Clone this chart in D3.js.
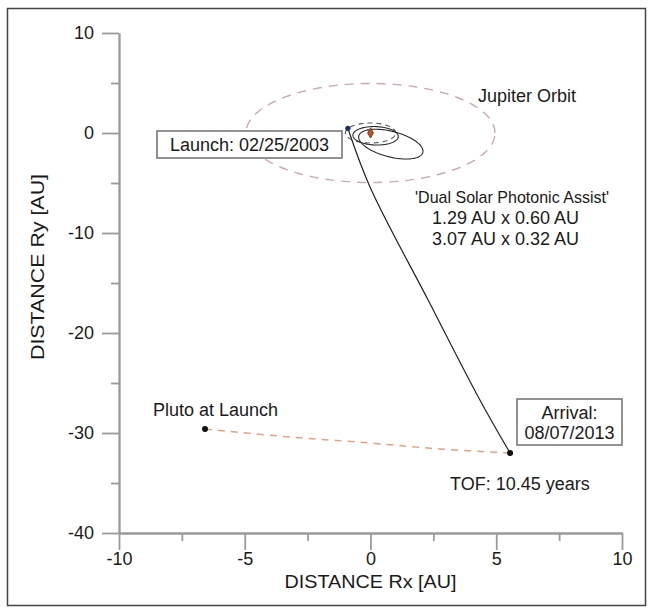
<!DOCTYPE html>
<html>
<head>
<meta charset="utf-8">
<script src="https://cdn.jsdelivr.net/npm/d3@7"></script>
<style>
  body { margin: 0; background: #fff; }
  text { font-family: "Liberation Sans", Arial, sans-serif; fill: #1a1a1a; }
</style>
</head>
<body>
<script>
// axis ticks
var xMajorTicks = [ -10, -5, 0, 5, 10 ];
var xMinorTicks = [ -7.5, -2.5, 2.5, 7.5 ];
var yMajorTicks = [ 10, 0, -10, -20, -30, -40 ];
var yMinorTicks = [ 5, -5, -15, -25, -35 ];

// circular planet orbits [AU]
var planetNames = [ 'Earth', 'Jupiter' ];
var planetRadius = [ 1.0, 4.95 ];

// the two solar photonic assist ellipses [AU]
var assistAphelion = [ 1.29, 3.07 ];
var assistPerihelion = [ 0.60, 0.32 ];
var assistApsisDeg = [ -54, -54 ];

// transfer trajectory [AU]
var trajX = [ -0.9, -0.02, 2.29, 4.35, 5.55 ];
var trajY = [ 0.47, -5.4, -16.7, -26.7, -32.0 ];

// Pluto's path during the flight [AU]
var plutoX = [ -6.58, -3.2, -0.02, 2.76, 5.55 ];
var plutoY = [ -29.6, -30.4, -31.0, -31.6, -32.0 ];

var launchPos = [ -0.9, 0.47 ];
var sunPos = [ 0, 0 ];

var svg = d3.select( 'body' ).append( 'svg' )
  .attr( 'width', 652 )
  .attr( 'height', 608 );

var x = d3.scaleLinear().domain( [ -10, 10 ] ).range( [ 119, 622 ] );
var y = d3.scaleLinear().domain( [ -40, 10 ] ).range( [ 533, 33 ] );

var plain = function ( d ) { return String( d ); }; // hyphen minus, not U+2212

// outer frame
svg.append( 'rect' )
  .attr( 'x', 7.5 ).attr( 'y', 8.5 )
  .attr( 'width', 638 ).attr( 'height', 597 )
  .attr( 'fill', 'none' )
  .attr( 'stroke', '#444' )
  .attr( 'stroke-width', 1.5 );

// axes - minor ticks first, then major ticks with labels
svg.append( 'g' )
  .attr( 'transform', 'translate(0,533)' )
  .call( d3.axisBottom( x ).tickValues( xMinorTicks ).tickSize( 8 ).tickSizeOuter( 0 ).tickFormat( '' ) );
svg.append( 'g' )
  .attr( 'transform', 'translate(119,0)' )
  .call( d3.axisLeft( y ).tickValues( yMinorTicks ).tickSize( 8 ).tickSizeOuter( 0 ).tickFormat( '' ) );

svg.append( 'g' )
  .attr( 'transform', 'translate(0,533)' )
  .call( d3.axisBottom( x ).tickValues( xMajorTicks ).tickSize( 17 ).tickSizeOuter( 0 ).tickPadding( 2 ).tickFormat( plain ) );
svg.append( 'g' )
  .attr( 'transform', 'translate(119,0)' )
  .call( d3.axisLeft( y ).tickValues( yMajorTicks ).tickSize( 17 ).tickSizeOuter( 0 ).tickPadding( 8 ).tickFormat( plain ) );

svg.selectAll( '.domain, .tick line' )
  .attr( 'stroke', '#9a9a9a' )
  .attr( 'stroke-width', 1.8 );
svg.selectAll( '.tick text' )
  .attr( 'font-size', 18 )
  .attr( 'fill', '#1a1a1a' )
  .attr( 'font-family', '"Liberation Sans", Arial, sans-serif' );

svg.append( 'text' )
  .attr( 'x', x( 0 ) ).attr( 'y', 588 )
  .attr( 'text-anchor', 'middle' )
  .attr( 'font-size', 18 )
  .attr( 'textLength', 172 ).attr( 'lengthAdjust', 'spacingAndGlyphs' )
  .text( 'DISTANCE Rx [AU]' );

svg.append( 'text' )
  .attr( 'transform', 'translate(44,267) rotate(-90)' )
  .attr( 'text-anchor', 'middle' )
  .attr( 'font-size', 18 )
  .attr( 'textLength', 186 ).attr( 'lengthAdjust', 'spacingAndGlyphs' )
  .text( 'DISTANCE Ry [AU]' );

// circular orbits
var line = d3.line()
  .x( function ( d ) { return x( d[ 0 ] ); } )
  .y( function ( d ) { return y( d[ 1 ] ); } );

var angles = d3.range( 0, 361, 3 );

svg.selectAll( 'path.planet' )
  .data( planetRadius )
  .enter().append( 'path' )
  .attr( 'class', 'planet' )
  .attr( 'd', function ( r ) {
    return line( angles.map( function ( a ) {
      var t = a * Math.PI / 180;
      return [ sunPos[ 0 ] + r * Math.cos( t ), sunPos[ 1 ] + r * Math.sin( t ) ];
    } ) );
  } )
  .attr( 'fill', 'none' )
  .attr( 'stroke', function ( d, i ) { return i == 0 ? '#555' : '#c9a6bf'; } )
  .attr( 'stroke-width', function ( d, i ) { return i == 0 ? 1.1 : 1.4; } )
  .attr( 'stroke-dasharray', function ( d, i ) { return i == 0 ? '5,4' : '9,7'; } );

// assist ellipses, sun in the focus
svg.selectAll( 'path.assist' )
  .data( assistAphelion )
  .enter().append( 'path' )
  .attr( 'class', 'assist' )
  .attr( 'd', function ( ra, i ) {
    var rp = assistPerihelion[ i ];
    var a = ( ra + rp ) / 2, c = ( ra - rp ) / 2, b = Math.sqrt( ra * rp );
    var w = assistApsisDeg[ i ] * Math.PI / 180;
    return line( angles.map( function ( deg ) {
      var t = deg * Math.PI / 180;
      var u = c + a * Math.cos( t ), v = b * Math.sin( t );
      return [ sunPos[ 0 ] + u * Math.cos( w ) - v * Math.sin( w ),
        sunPos[ 1 ] + u * Math.sin( w ) + v * Math.cos( w ) ];
    } ) );
  } )
  .attr( 'fill', 'none' )
  .attr( 'stroke', '#2a2a2a' )
  .attr( 'stroke-width', 1.1 );

// transfer to Pluto
svg.append( 'path' )
  .datum( d3.zip( trajX, trajY ) )
  .attr( 'd', line.curve( d3.curveCatmullRom ) )
  .attr( 'fill', 'none' )
  .attr( 'stroke', '#222' )
  .attr( 'stroke-width', 1.2 );

svg.append( 'path' )
  .datum( d3.zip( plutoX, plutoY ) )
  .attr( 'd', line.curve( d3.curveCatmullRom ) )
  .attr( 'fill', 'none' )
  .attr( 'stroke', '#e2a184' )
  .attr( 'stroke-width', 1.5 )
  .attr( 'stroke-dasharray', '7,6' );

// markers
svg.append( 'circle' )
  .attr( 'cx', x( launchPos[ 0 ] ) ).attr( 'cy', y( launchPos[ 1 ] ) )
  .attr( 'r', 2.6 ).attr( 'fill', '#1d2f63' );

svg.append( 'path' )
  .attr( 'd', d3.symbol( d3.symbolDiamond, 30 ) )
  .attr( 'transform', 'translate(' + x( sunPos[ 0 ] ) + ',' + y( sunPos[ 1 ] ) + ')' )
  .attr( 'fill', '#b4552e' )
  .attr( 'stroke', '#6a2c14' )
  .attr( 'stroke-width', 0.8 );

svg.selectAll( 'circle.end' )
  .data( [ [ plutoX[ 0 ], plutoY[ 0 ] ], [ trajX[ trajX.length - 1 ], trajY[ trajY.length - 1 ] ] ] )
  .enter().append( 'circle' )
  .attr( 'class', 'end' )
  .attr( 'cx', function ( d ) { return x( d[ 0 ] ); } )
  .attr( 'cy', function ( d ) { return y( d[ 1 ] ); } )
  .attr( 'r', 3 )
  .attr( 'fill', '#111' );

// annotation boxes
svg.append( 'rect' )
  .attr( 'x', 157 ).attr( 'y', 131 )
  .attr( 'width', 185 ).attr( 'height', 27 )
  .attr( 'fill', '#fff' )
  .attr( 'stroke', '#6f6f6f' )
  .attr( 'stroke-width', 1.5 );
svg.append( 'text' )
  .attr( 'x', 249.5 ).attr( 'y', 151 )
  .attr( 'text-anchor', 'middle' )
  .attr( 'font-size', 18 )
  .text( 'Launch: 02/25/2003' );

svg.append( 'rect' )
  .attr( 'x', 517 ).attr( 'y', 399 )
  .attr( 'width', 105 ).attr( 'height', 46 )
  .attr( 'fill', '#fff' )
  .attr( 'stroke', '#6f6f6f' )
  .attr( 'stroke-width', 1.5 );
svg.append( 'text' )
  .attr( 'x', 569.5 ).attr( 'y', 419 )
  .attr( 'text-anchor', 'middle' )
  .attr( 'font-size', 18 )
  .text( 'Arrival:' );
svg.append( 'text' )
  .attr( 'x', 569.5 ).attr( 'y', 439 )
  .attr( 'text-anchor', 'middle' )
  .attr( 'font-size', 18 )
  .text( '08/07/2013' );

// free labels
svg.append( 'text' ).attr( 'x', 478 ).attr( 'y', 102 ).attr( 'font-size', 18 ).text( 'Jupiter Orbit' );
svg.append( 'text' ).attr( 'x', 415 ).attr( 'y', 203 ).attr( 'font-size', 17 )
  .attr( 'textLength', 194 ).attr( 'lengthAdjust', 'spacingAndGlyphs' )
  .text( '\'Dual Solar Photonic Assist\'' );
svg.append( 'text' ).attr( 'x', 432 ).attr( 'y', 224 ).attr( 'font-size', 18 ).text( '1.29 AU x 0.60 AU' );
svg.append( 'text' ).attr( 'x', 432 ).attr( 'y', 245 ).attr( 'font-size', 18 ).text( '3.07 AU x 0.32 AU' );
svg.append( 'text' ).attr( 'x', 153 ).attr( 'y', 416 ).attr( 'font-size', 18 ).text( 'Pluto at Launch' );
svg.append( 'text' ).attr( 'x', 450 ).attr( 'y', 490 ).attr( 'font-size', 18 ).text( 'TOF: 10.45 years' );
</script>
</body>
</html>
